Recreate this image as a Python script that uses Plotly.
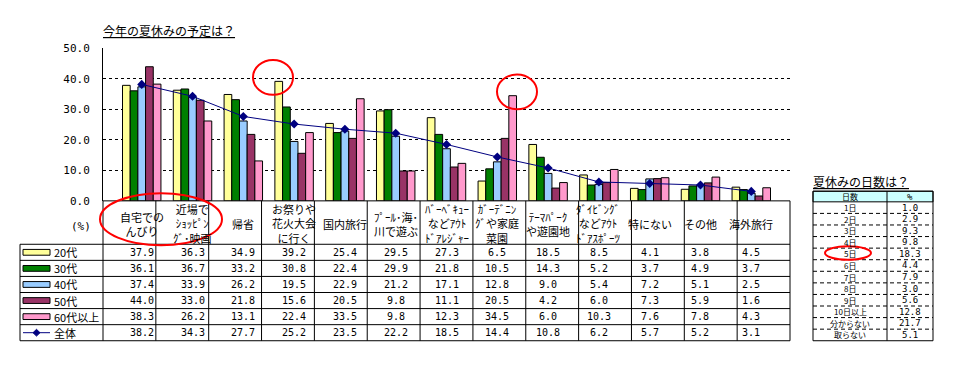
import plotly.graph_objects as go

W, H = 954, 368

categories = ["自宅でのんびり", "近場でｼｮｯﾋﾟﾝｸﾞ･映画", "帰省", "お祭りや花火大会に行く", "国内旅行",
              "ﾌﾟｰﾙ･海･川で遊ぶ", "ﾊﾞｰﾍﾞｷｭｰなどｱｳﾄﾄﾞｱﾚｼﾞｬｰ", "ｶﾞｰﾃﾞﾆﾝｸﾞや家庭菜園", "ﾃｰﾏﾊﾟｰｸや遊園地",
              "ﾀﾞｲﾋﾞﾝｸﾞなどｱｳﾄﾄﾞｱｽﾎﾟｰﾂ", "特にない", "その他", "海外旅行"]
category_labels = ["自宅での<br>んびり", "近場で<br>ｼｮｯﾋﾟﾝ<br>ｸﾞ･映画", "帰省", "お祭りや<br>花火大会<br>に行く",
                   "国内旅行", "ﾌﾟｰﾙ･海･<br>川で遊ぶ", "ﾊﾞｰﾍﾞｷｭｰ<br>などｱｳﾄ<br>ﾄﾞｱﾚｼﾞｬｰ",
                   "ｶﾞｰﾃﾞﾆﾝ<br>ｸﾞや家庭<br>菜園", "ﾃｰﾏﾊﾟｰｸ<br>や遊園地", "ﾀﾞｲﾋﾞﾝｸﾞ<br>などｱｳﾄ<br>ﾄﾞｱｽﾎﾟｰﾂ",
                   "特にない", "その他", "海外旅行"]

series_names = ["20代", "30代", "40代", "50代", "60代以上"]
v20s = [37.9, 36.3, 34.9, 39.2, 25.4, 29.5, 27.3, 6.5, 18.5, 8.5, 4.1, 3.8, 4.5]
v30s = [36.1, 36.7, 33.2, 30.8, 22.4, 29.9, 21.8, 10.5, 14.3, 5.2, 3.7, 4.9, 3.7]
v40s = [37.4, 33.9, 26.2, 19.5, 22.9, 21.2, 17.1, 12.8, 9.0, 5.4, 7.2, 5.1, 2.5]
v50s = [44.0, 33.0, 21.8, 15.6, 20.5, 9.8, 11.1, 20.5, 4.2, 6.0, 7.3, 5.9, 1.6]
v60s = [38.3, 26.2, 13.1, 22.4, 33.5, 9.8, 12.3, 34.5, 6.0, 10.3, 7.6, 7.8, 4.3]
total_name = "全体"
total = [38.2, 34.3, 27.7, 25.2, 23.5, 22.2, 18.5, 14.4, 10.8, 6.2, 5.7, 5.2, 3.1]
series_colors = ["#FFFF99", "#008000", "#99CCFF", "#993366", "#FF99CC"]
total_color = "#000080"

y_ticks = [0, 10, 20, 30, 40, 50]

days_labels = ["1日", "2日", "3日", "4日", "5日", "6日", "7日", "8日", "9日", "10日以上", "分からない", "取らない"]
days_pct = [1.0, 2.9, 9.3, 9.8, 18.3, 4.4, 7.9, 3.0, 5.6, 12.8, 21.7, 5.1]

title_main = "今年の夏休みの予定は？"
title_days = "夏休みの日数は？"

JP = "Noto Sans CJK JP"
MONO = "DejaVu Sans Mono"


def px(x):
    return x / W


def py(y):
    return 1 - y / H


X0, X1 = 103, 790
YBOT, YTOP = 202, 44
HEAD_BOT = 247
ROW_H = (347 - HEAD_BOT) / 6
ncat = len(categories)
cw = (X1 - X0) / ncat

fig = go.Figure()
all_series = [v20s, v30s, v40s, v50s, v60s]
for name, vals, col in zip(series_names, all_series, series_colors):
    fig.add_trace(go.Bar(x=categories, y=vals, name=name, marker=dict(color=col, line=dict(color="black", width=1)),
                         showlegend=False))
fig.add_trace(go.Scatter(x=categories, y=total, name=total_name, mode="lines+markers",
                         line=dict(color=total_color, width=1),
                         marker=dict(symbol="diamond", size=7, color=total_color), showlegend=False))

shapes = []
annotations = []


def hline(x0, x1, y, dash="solid", w=1):
    shapes.append(dict(type="line", xref="paper", yref="paper", x0=px(x0), x1=px(x1), y0=py(y), y1=py(y),
                       line=dict(color="black", width=w, dash=dash)))


def vline(x, y0, y1, w=1):
    shapes.append(dict(type="line", xref="paper", yref="paper", x0=px(x), x1=px(x), y0=py(y0), y1=py(y1),
                       line=dict(color="black", width=w)))


def text(x, y, s, size=11, font=JP, xanchor="center", xref="paper"):
    annotations.append(dict(x=x if xref != "paper" else px(x), y=py(y), xref=xref, yref="paper", text=s,
                            showarrow=False, xanchor=xanchor, yanchor="middle",
                            font=dict(family=font, size=size, color="black")))


# main data table grid
hline(X0, X1, YBOT)
for i in range(7):
    hline(20, X1, HEAD_BOT + i * ROW_H)
vline(20, HEAD_BOT, 347)
for i in range(ncat + 1):
    vline(X0 + i * cw, YBOT, 347)

# header labels
for cat, lab in zip(categories, category_labels):
    text(cat, (YBOT + HEAD_BOT) / 2 + 1, lab, size=11, xref="x")

# row values
rows = all_series + [total]
for r, vals in enumerate(rows):
    yc = HEAD_BOT + (r + 0.5) * ROW_H
    for cat, v in zip(categories, vals):
        text(cat, yc, f"{v:.1f}", size=10, font=MONO, xref="x")

# legend keys in table
for r, (name, col) in enumerate(zip(series_names, series_colors)):
    yc = HEAD_BOT + (r + 0.5) * ROW_H
    shapes.append(dict(type="rect", xref="paper", yref="paper", x0=px(23), x1=px(50), y0=py(yc + 3), y1=py(yc - 3),
                       fillcolor=col, line=dict(color="black", width=1)))
    text(52, yc, name, size=11, xanchor="left")
yc = HEAD_BOT + 5.5 * ROW_H
shapes.append(dict(type="line", xref="paper", yref="paper", x0=px(23), x1=px(50), y0=py(yc), y1=py(yc),
                   line=dict(color=total_color, width=1)))
dx, dy = 3.5, 3.5
cx = 36.5
shapes.append(dict(type="path", xref="paper", yref="paper",
                   path=f"M {px(cx - dx)} {py(yc)} L {px(cx)} {py(yc - dy)} L {px(cx + dx)} {py(yc)} L {px(cx)} {py(yc + dy)} Z",
                   fillcolor=total_color, line=dict(color=total_color, width=1)))
text(52, yc, total_name, size=11, xanchor="left")

text(81, 229, "(%)", size=11, font=MONO)

# title
text(101, 25, "<u>" + title_main + "</u>", size=12, xanchor="left")

# right table
TX0, TXM, TX1 = 813, 887, 933
TY0, THB, TY1 = 192, 203, 347
rh = (TY1 - THB) / len(days_labels)
shapes.append(dict(type="rect", xref="paper", yref="paper", x0=px(TX0), x1=px(TX1), y0=py(THB), y1=py(TY0),
                   fillcolor="#CCFFFF", line=dict(color="black", width=1)))
shapes.append(dict(type="rect", xref="paper", yref="paper", x0=px(TX0), x1=px(TX1), y0=py(TY1), y1=py(TY0),
                   line=dict(color="black", width=1)))
vline(TXM, TY0, TY1)
for i in range(1, len(days_labels)):
    hline(TX0, TX1, THB + i * rh, dash="4px,3px")
text(811, 182, "<u>" + title_days + "</u>", size=12, xanchor="left")
text((TX0 + TXM) / 2, (TY0 + THB) / 2, "日数", size=8)
text((TXM + TX1) / 2, (TY0 + THB) / 2, "%", size=9, font=MONO)
for i, (lab, v) in enumerate(zip(days_labels, days_pct)):
    yc = THB + (i + 0.5) * rh
    text((TX0 + TXM) / 2, yc, lab, size=8)
    text((TXM + TX1) / 2, yc, f"{v:.1f}", size=9, font=MONO)

# red highlight ellipses
for (cx, cy, rx, ry) in [(273, 74, 20, 18), (517, 89, 20, 18), (161, 221, 61, 27), (848, 256, 23, 7)]:
    shapes.append(dict(type="circle", xref="paper", yref="paper", x0=px(cx - rx), x1=px(cx + rx),
                       y0=py(cy + ry), y1=py(cy - ry), line=dict(color="#FF0000", width=2)))

fig.update_layout(
    width=W, height=H, margin=dict(l=0, r=0, t=0, b=0),
    paper_bgcolor="white", plot_bgcolor="white",
    barmode="group", bargap=0.243, bargroupgap=0,
    shapes=shapes, annotations=annotations,
    xaxis=dict(domain=[px(X0), px(X1)], showticklabels=False, showgrid=False, showline=False, ticks="",
               categoryorder="array", categoryarray=categories),
    yaxis=dict(domain=[py(YBOT), py(YTOP)], range=[0, 50], tickvals=y_ticks, tickformat=".1f",
               showgrid=True, gridcolor="black", griddash="3px,3px", gridwidth=1, zeroline=False,
               showline=True, linecolor="black", linewidth=1, ticks="", ticklabelstandoff=10,
               tickfont=dict(family=MONO, size=11, color="black")),
)

fig.write_html("out.html", config={"displayModeBar": False},
               post_script="document.body.style.margin='0';document.body.style.overflow='hidden';")
